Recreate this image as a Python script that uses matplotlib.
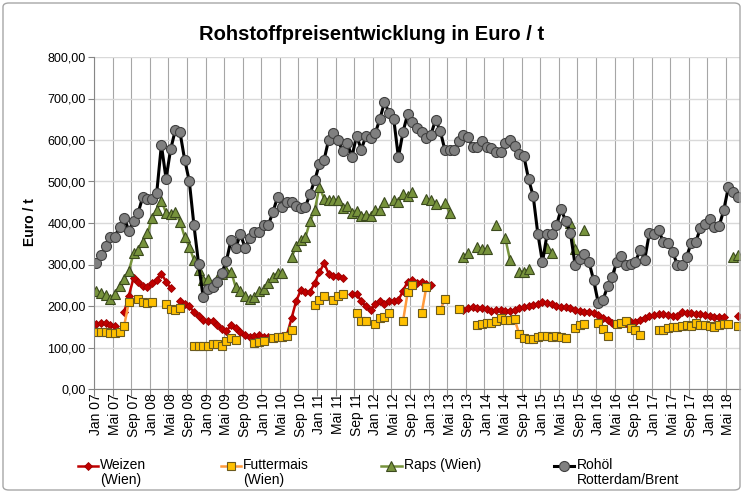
import matplotlib.pyplot as plt
import numpy as np
from matplotlib.lines import Line2D
from matplotlib.patches import FancyBboxPatch
from matplotlib.ticker import FuncFormatter

plt.rcParams['font.family'] = ['Liberation Sans', 'DejaVu Sans']

N = None  # month without quotation

# monthly prices, Jan 2007 .. Jul 2018 (Euro / t)
weizen = [
    156, 159, 158, 155, 153, N, 186, 225, 267, 257,
    248, 245, 255, 263, 278, 259, 243, N, 212, 206,
    199, 186, 176, 166, 165, 163, 155, 144, 139, 154,
    146, 138, 129, 125, 128, 129, 125, 126, 122, 125,
    128, 130, 170, 212, 238, 233, 234, 256, 281, 303,
    278, 272, 272, 268, N, 230, 229, 212, 199, 190,
    204, 211, 206, 211, 213, 214, 237, 259, 262, 256,
    259, 252, 250, N, N, N, N, N, N, 190,
    194, 198, 194, 194, 192, 189, 190, 190, 189, 188,
    190, 194, 197, 200, 202, 206, 210, 207, 205, 201,
    198, 197, 194, 191, 187, 186, 186, 183, 178, 172,
    166, 160, 157, 160, 160, 162, 162, 167, 172, 176,
    178, 180, 180, 178, 176, 175, 185, 184, 182, 181,
    180, 178, 176, 174, 174, 174, N, N, 176,
]
futtermais = [
    138, 138, 138, 134, 134, 138, 153, 210, N, 217,
    210, 208, 210, N, N, 204, 192, 190, 194, N,
    N, 104, 104, 103, 104, 108, 108, 103, 115, 124,
    119, N, N, N, 112, 114, 116, N, 122, 125,
    126, 127, 142, N, N, N, N, 202, 215, 224,
    N, 215, 223, 230, N, N, 182, 165, 164, N,
    157, 170, 174, 182, N, N, 164, 233, 251, N,
    183, 245, N, N, 190, 216, N, N, 192, N,
    N, N, 154, 157, 158, 160, 163, 170, 166, 166,
    168, 132, 124, 120, 121, 126, 128, 127, 126, 127,
    125, 123, N, 146, 154, 156, N, N, 158, 145,
    128, N, 157, 158, 164, 148, 142, 130, N, N,
    N, 141, 142, 146, 150, 150, 152, 154, 152, 160,
    154, 154, 152, 150, 154, 156, 156, N, 152,
]
raps = [
    237, 232, 226, 217, 229, 248, 266, 284, 327, 334,
    355, 375, 412, 432, 453, 425, 422, 426, 403, 367,
    343, 311, 287, 263, 266, 253, 265, 278, 285, 283,
    245, 236, 225, 217, 221, 236, 240, 256, 270, 280,
    280, N, 317, 344, 358, 366, 404, 431, 487, 459,
    456, 456, 456, 437, 440, 425, 430, 417, 420, 418,
    431, 431, 451, N, 455, 450, 470, 465, 475, N,
    N, 459, 455, 445, N, 449, 425, N, N, 319,
    327, N, 341, 338, 337, N, 395, N, 363, 312,
    N, 283, 283, 288, N, N, N, 339, 327, N,
    N, N, 399, 337, N, 384, N, N, N, N,
    N, N, N, N, N, N, N, N, N, N,
    N, N, N, N, N, N, N, N, N, N,
    N, N, N, N, N, N, N, 318, 322,
]
rohoel = [
    304, 322, 344, 367, 367, 391, 413, 381, 405, 425,
    463, 459, 458, 473, 588, 507, 578, 624, 619, 553,
    501, 395, 302, 221, 242, 246, 258, 280, 309, 360,
    340, 374, 340, 363, 378, 378, 394, 395, 426, 463,
    438, 451, 451, 441, 435, 439, 471, 503, 542, 552,
    601, 618, 600, 573, 592, 560, 610, 577, 609, 605,
    616, 650, 691, 665, 650, 558, 620, 663, 643, 630,
    620, 606, 613, 649, 622, 576, 577, 577, 598, 613,
    607, 582, 582, 597, 582, 580, 572, 572, 592, 601,
    585, 566, 561, 506, 465, 374, 306, 374, 374, 394,
    433, 405, 377, 300, 313, 326, 307, 262, 208, 214,
    247, 271, 307, 320, 299, 302, 307, 334, 312, 376,
    373, 382, 355, 353, 330, 300, 300, 319, 351, 355,
    388, 398, 409, 391, 392, 431, 486, 474, 463,
]

labels = ["Weizen\n(Wien)", "Futtermais\n(Wien)", "Raps (Wien)", "Rohöl\nRotterdam/Brent"]
tick_labels = [f"{m} {y:02d}" for y in range(7, 19) for m in ("Jan", "Mai", "Sep")][:35]

styles = [
    dict(color="#C00000", marker="D", ms=4.2, mfc="#C00000", mec="#9A0000", mew=0.6, lw=1.8),
    dict(color="#FF9A3C", marker="s", ms=6.2, mfc="#FFC000", mec="#6B5A1E", mew=0.8, lw=1.8),
    dict(color="#77933C", marker="^", ms=6.8, mfc="#77933C", mec="#3B4A1E", mew=0.8, lw=1.8),
    dict(color="#000000", marker="o", ms=7.2, mfc="#808080", mec="#404040", mew=0.8, lw=2.2),
]


def as_array(v):
    return np.array([np.nan if x is None else x for x in v], dtype=float)


W, H = 742, 492
fig = plt.figure(figsize=(W / 100, H / 100), dpi=100)
ax = fig.add_axes([94 / W, 103 / H, 646 / W, 332 / H])

months = np.arange(len(rohoel))
for data, st in zip([weizen, futtermais, raps, rohoel], styles):
    ax.plot(months, as_array(data), **st)

ax.set_xlim(-0.5, len(rohoel) - 0.5)
ax.set_ylim(0, 800)
ax.set_yticks(np.arange(0, 801, 100))
ax.yaxis.set_major_formatter(FuncFormatter(lambda v, p: f"{v:.2f}".replace(".", ",")))

ax.set_xticks(np.arange(-0.5, len(rohoel), 4))
ax.set_xticks(np.arange(0, 137, 4), tick_labels, minor=True)
ax.tick_params(axis="x", which="major", length=5, color="#868686", labelbottom=False)
ax.tick_params(axis="x", which="minor", length=0, labelrotation=90, labelsize=10, pad=3)
ax.tick_params(axis="y", length=4, color="#868686", labelsize=9, pad=2)

ax.grid(axis="x", which="major", color="#A6A6A6", lw=0.8)
ax.grid(axis="y", color="#D9D9D9", lw=1.0)
ax.set_axisbelow(True)
for s in ("top", "right"):
    ax.spines[s].set_visible(False)
for s in ("left", "bottom"):
    ax.spines[s].set_color("#868686")

fig.text(372 / W, 1 - 35 / H, "Rohstoffpreisentwicklung in Euro / t",
         ha="center", va="center", fontsize=14.5, fontweight="bold")
fig.text(30 / W, 1 - 222 / H, "Euro / t", rotation=90, ha="center", va="center",
         fontsize=10, fontweight="bold")

# legend row below the axis
leg_pos = [(78, 98, 100), (221, 241, 243), (381, 402, 404), (554, 574, 577)]
ly = 1 - 466 / H
for (x0, x1, tx), lab, st in zip(leg_pos, labels, styles):
    xs = np.array([x0, (x0 + x1) / 2, x1]) / W
    fig.add_artist(Line2D(xs, [ly] * 3, transform=fig.transFigure, markevery=[1], **st))
    fig.text(tx / W, 1 - 458 / H, lab, ha="left", va="top", fontsize=10, linespacing=1.1)

fig.add_artist(FancyBboxPatch((3 / W, 2 / H), 737 / W, 487 / H,
                              boxstyle="round,pad=0,rounding_size=0.008",
                              transform=fig.transFigure, fill=False, ec="#A6A6A6", lw=1))

fig.savefig("out.png", dpi=100)
